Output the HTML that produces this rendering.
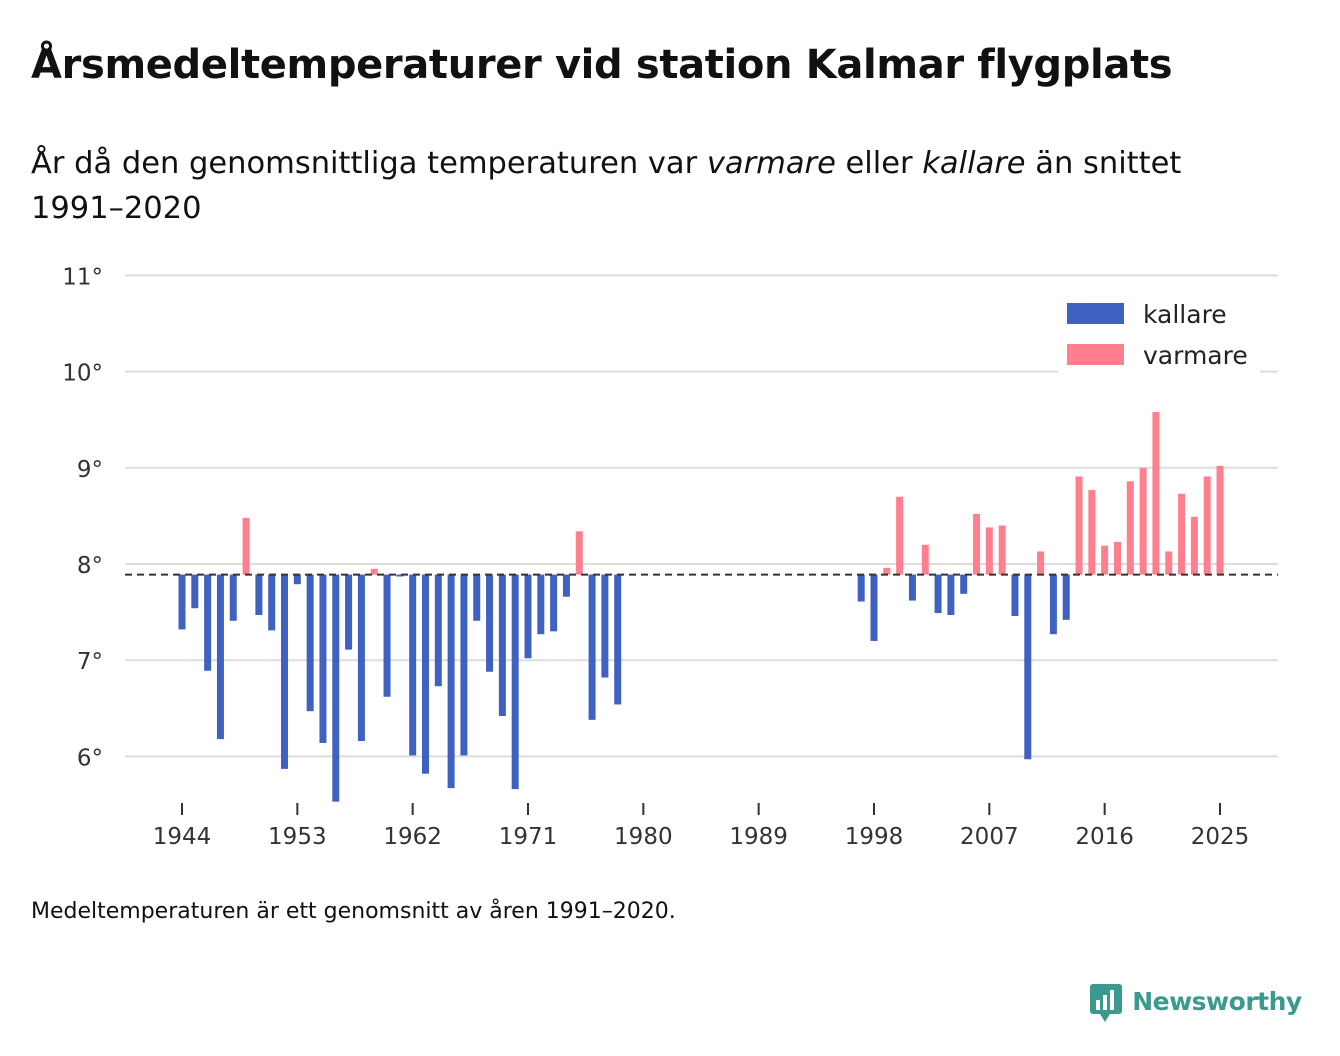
<!DOCTYPE html>
<html><head><meta charset="utf-8"><style>
body{margin:0;background:#fff;width:1340px;height:1056px;overflow:hidden;font-family:"DejaVu Sans","Liberation Sans",sans-serif;color:#111}
#title{position:absolute;left:31px;top:42px;font-size:40px;font-weight:bold;margin:0;letter-spacing:-0.35px;white-space:nowrap}
#sub{position:absolute;left:31px;top:141px;font-size:30.5px;line-height:45px;width:1240px;white-space:nowrap}
#note{position:absolute;left:31px;top:899px;font-size:22px}
#logo{position:absolute;left:1088px;top:982px;font-size:25px;font-weight:bold;color:#3b9a8f;white-space:nowrap;letter-spacing:-0.5px}
svg{position:absolute;left:0;top:0}
text{font-family:"DejaVu Sans","Liberation Sans",sans-serif}
</style></head><body>
<h1 id="title">Årsmedeltemperaturer vid station Kalmar flygplats</h1>
<div id="sub">År då den genomsnittliga temperaturen var <i>varmare</i> eller <i>kallare</i> än snittet<br>1991–2020</div>
<svg id="chart" width="1340" height="1056"></svg>
<div id="note">Medeltemperaturen är ett genomsnitt av åren 1991–2020.</div>
<div id="logo"><svg width="36" height="42" style="position:static;vertical-align:middle"><rect x="2" y="2" width="32" height="30" rx="3" fill="#3b9a8f"/><polygon points="12,32 22,32 17,40" fill="#3b9a8f"/><rect x="8" y="18" width="4" height="10" fill="#fff"/><rect x="15" y="13" width="4" height="15" fill="#fff"/><rect x="22" y="8" width="4" height="20" fill="#fff"/></svg> Newsworthy</div>
<script>
const years=[1944,1945,1946,1947,1948,1949,1950,1951,1952,1953,1954,1955,1956,1957,1958,1959,1960,1961,1962,1963,1964,1965,1966,1967,1968,1969,1970,1971,1972,1973,1974,1975,1976,1977,1978,1997,1998,1999,2000,2001,2002,2003,2004,2005,2006,2007,2008,2009,2010,2011,2012,2013,2014,2015,2016,2017,2018,2019,2020,2021,2022,2023,2024,2025];
const temps=[7.32,7.54,6.89,6.18,7.41,8.48,7.47,7.31,5.87,7.79,6.47,6.14,5.53,7.11,6.16,7.95,6.62,7.87,6.01,5.82,6.73,5.67,6.01,7.41,6.88,6.42,5.66,7.02,7.27,7.30,7.66,8.34,6.38,6.82,6.54,7.61,7.20,7.96,8.70,7.62,8.20,7.49,7.47,7.69,8.52,8.38,8.40,7.46,5.97,8.13,7.27,7.42,8.91,8.77,8.19,8.23,8.86,9.00,9.58,8.13,8.73,8.49,8.91,9.02];
const baseline=7.89;
const yTicks=[6,7,8,9,10,11];
const xTicks=[1944,1953,1962,1971,1980,1989,1998,2007,2016,2025];
const NS="http://www.w3.org/2000/svg";
const svg=document.getElementById('chart');
const y=v=>564-(v-8)*96.2;
const x=yr=>182+(yr-1944)*(1220-182)/81;
function mk(t,a,p){const e=document.createElementNS(NS,t);for(const k in a)e.setAttribute(k,a[k]);(p||svg).appendChild(e);return e;}
yTicks.forEach(v=>{
 const g=mk('line',{x1:125,x2:1278,y1:y(v),y2:y(v),stroke:'#ddd','stroke-width':2});
 
 
 const t=mk('text',{x:103,y:y(v)+9,'text-anchor':'end','font-size':23,fill:'#333'});t.textContent=v+'°';
 
 
});
xTicks.forEach(v=>{
 const l=mk('line',{x1:x(v),x2:x(v),y1:803,y2:815,stroke:'#333','stroke-width':2});
 
 
 const t=mk('text',{x:x(v),y:844,'text-anchor':'middle','font-size':23,fill:'#333'});t.textContent=v;
 
 
});
years.forEach((yr,i)=>{
 const v=temps[i],warm=v>baseline;
 const top=Math.min(y(v),y(baseline)),h=Math.abs(y(v)-y(baseline));
 const r=mk('rect',{x:x(yr)-3.5,y:top,width:7,height:h,fill:warm?'#ff7f8e':'#3f61c0'});
 
 
});
const bl=mk('line',{x1:125,x2:1278,y1:y(baseline),y2:y(baseline),stroke:'#333','stroke-width':2,'stroke-dasharray':'7,5'});


const lg=mk('rect',{x:1058,y:292,width:202,height:82,fill:'#fff'});


[['kallare','#3f61c0',303],['varmare','#ff7f8e',344]].forEach(([n,c,yy])=>{
 const r=mk('rect',{x:1067,y:yy,width:57,height:21,fill:c});
 
 
 const t=mk('text',{x:1143,y:yy+20,'font-size':25,fill:'#222'});t.textContent=n;
 
 
});
</script>
</body></html>
